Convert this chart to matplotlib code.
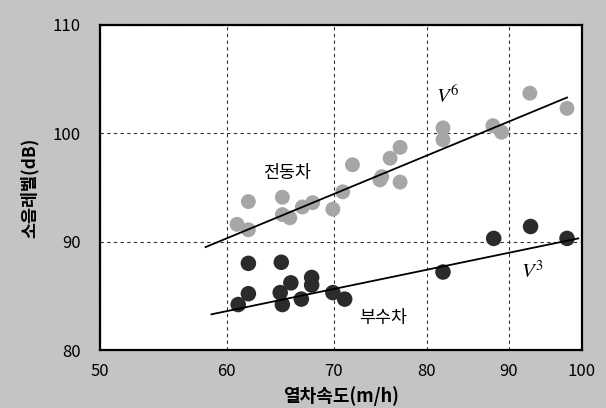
import matplotlib.pyplot as plt
from matplotlib.ticker import FixedLocator, FixedFormatter, NullLocator

plt.rcParams['font.family'] = ['Noto Sans CJK KR', 'DejaVu Sans']

# 전동차 (motor car) points: train speed, noise level
motor_speed = [60.9, 61.9, 61.9, 65.0, 65.0, 65.7, 66.9, 67.9, 69.9, 70.9, 71.9,
               75.0, 75.9, 77.0, 77.0, 74.8, 81.9, 81.9, 88.0, 89.1, 92.8, 97.9]
motor_level = [91.6, 93.7, 91.1, 94.1, 92.5, 92.2, 93.2, 93.6, 93.0, 94.6, 97.1,
               96.0, 97.7, 98.7, 95.5, 95.7, 100.5, 99.4, 100.7, 100.1, 103.7, 102.3]

# 부수차 (trailer car) points
trailer_speed = [61.9, 64.9, 61.9, 61.0, 64.8, 65.8, 65.0, 66.8, 67.8, 67.8, 69.9,
                 71.1, 81.9, 88.1, 92.9, 97.9]
trailer_level = [88.0, 88.1, 85.2, 84.2, 85.3, 86.2, 84.2, 84.7, 86.7, 86.0, 85.3,
                 84.7, 87.2, 90.3, 91.4, 90.3]

# trend lines (end points)
v6_speed = [58.2, 97.9]
v6_level = [89.5, 103.3]
v3_speed = [58.7, 99.5]
v3_level = [83.3, 90.3]

x_ticks = [50, 60, 70, 80, 90, 100]
y_ticks = [80, 90, 100, 110]

fig = plt.figure(figsize=(6.06, 4.08), dpi=100)
fig.patch.set_facecolor('#c4c4c4')
ax = fig.add_axes([0.165, 0.142, 0.795, 0.797])
ax.set_facecolor('white')

ax.set_xscale('log')
ax.set_xlim(50, 100)
ax.set_ylim(80, 110)
ax.xaxis.set_major_locator(FixedLocator(x_ticks))
ax.xaxis.set_major_formatter(FixedFormatter([str(t) for t in x_ticks]))
ax.xaxis.set_minor_locator(NullLocator())
ax.set_yticks(y_ticks)

ax.grid(True, color='#333333', linestyle=(0, (3, 3)), linewidth=0.8)
ax.set_axisbelow(True)

ax.plot(v6_speed, v6_level, color='black', linewidth=1.3, zorder=3)
ax.plot(v3_speed, v3_level, color='black', linewidth=1.3, zorder=3)

ax.scatter(motor_speed, motor_level, s=115, color='#a6a6a6', edgecolors='none', zorder=2)
ax.scatter(trailer_speed, trailer_level, s=125, color='#2b2b2b', edgecolors='none', zorder=2)

ax.text(65.4, 96.3, '전동차', fontsize=12.5, ha='center', va='center')
ax.text(75.1, 83.0, '부수차', fontsize=12.5, ha='center', va='center')
ax.text(82.5, 103.4, r'$V^6$', fontsize=15, ha='center', va='center', math_fontfamily='stix')
ax.text(93.2, 87.2, r'$V^3$', fontsize=15, ha='center', va='center', math_fontfamily='stix')

ax.tick_params(length=0, labelsize=12)
ax.tick_params(axis='y', pad=14)
ax.tick_params(axis='x', pad=9)
for s in ax.spines.values():
    s.set_linewidth(1.6)
    s.set_color('black')

ax.set_xlabel('열차속도(m/h)', fontsize=13, fontweight='bold', labelpad=5)
ax.set_ylabel('소음레벨(dB)', fontsize=12.5, fontweight='bold', labelpad=10)

fig.savefig('out.png', dpi=100, facecolor=fig.get_facecolor())
